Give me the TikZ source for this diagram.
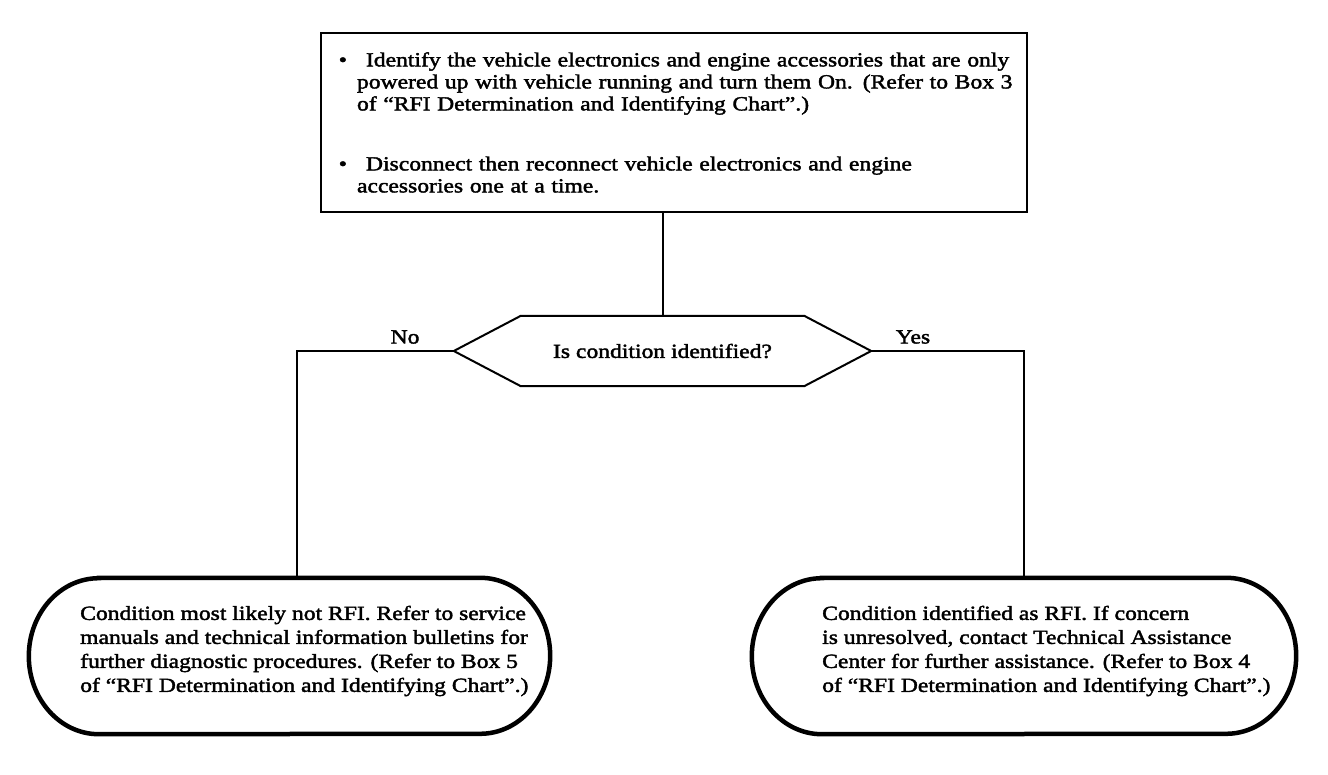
\documentclass[tikz,border=0pt]{standalone}
\usepackage{fontspec}
\setmainfont{Liberation Serif}[FakeStretch=1.18,FakeBold=2]
\begin{document}
\begin{tikzpicture}[x=1pt,y=1pt,
  conn/.style={line width=2pt},
  actbox/.style={draw, line width=2pt, minimum width=706pt, minimum height=179pt, inner sep=0pt, text width=634pt, align=left, font=\fontsize{20pt}{22pt}\selectfont},
  decnode/.style={minimum width=417pt, minimum height=70pt, inner sep=0pt, font=\fontsize{20pt}{22pt}\selectfont},
  hexline/.style={line width=2pt, line join=miter},
  term/.style={minimum width=#1, minimum height=156pt, inner sep=0pt},
  termline/.style={line width=4.5pt},
  termtxt/.style={inner sep=0pt, align=left, anchor=west, font=\fontsize{20pt}{24pt}\selectfont},
  lbl/.style={inner sep=0pt, font=\fontsize{20pt}{22pt}\selectfont}
]
\useasboundingbox (0,0) rectangle (1328,774);
\fill[white] (0,0) rectangle (1328,774);

\node[actbox] (act) at (674,651.5) {\mbox{\llap{\textbullet\hspace{10pt}}\kern9pt Identify the vehicle electronics and engine accessories that are only}\\
\mbox{powered up with vehicle running and turn them On. (Refer to Box 3}\\
\mbox{of “RFI Determination and Identifying Chart”.)}\\[38pt]
\mbox{\llap{\textbullet\hspace{10pt}}\kern9pt Disconnect then reconnect vehicle electronics and engine}\\
\mbox{accessories one at a time.}};

\node[decnode] (dec) at (662.5,423) {Is condition identified?};
\draw[hexline] (dec.west) -- ([xshift=67pt]dec.north west) -- ([xshift=-67pt]dec.north east) -- (dec.east) -- ([xshift=-67pt]dec.south east) -- ([xshift=67pt]dec.south west) -- cycle;

\node[term=521pt] (no) at (289.5,118) {};
\node[term=544pt] (yes) at (1024,118) {};
\draw[termline] ([xshift=70pt]no.north west) -- ([xshift=-70pt]no.north east) arc[start angle=90, end angle=-90, x radius=70pt, y radius=78pt] -- ([xshift=70pt]no.south west) arc[start angle=270, end angle=90, x radius=70pt, y radius=78pt] -- cycle;
\draw[termline] ([xshift=70pt]yes.north west) -- ([xshift=-70pt]yes.north east) arc[start angle=90, end angle=-90, x radius=70pt, y radius=78pt] -- ([xshift=70pt]yes.south west) arc[start angle=270, end angle=90, x radius=70pt, y radius=78pt] -- cycle;

\node[termtxt] (notxt) at (80,123) {Condition most likely not RFI. Refer to service\\
manuals and technical information bulletins for\\
further diagnostic procedures. (Refer to Box 5\\
of “RFI Determination and Identifying Chart”.)};
\node[termtxt] (yestxt) at (822,123) {Condition identified as RFI. If concern\\
is unresolved, contact Technical Assistance\\
Center for further assistance. (Refer to Box 4\\
of “RFI Determination and Identifying Chart”.)};

\draw[conn] (act.south -| dec.north) -- (dec.north);
\draw[conn] (dec.west) -| ([xshift=7.5pt]no.north);
\draw[conn] (dec.east) -| (yes.north);

\node[lbl] (nolbl) at (405,437) {No};
\node[lbl] (yeslbl) at (913,437) {Yes};
\end{tikzpicture}
\end{document}
